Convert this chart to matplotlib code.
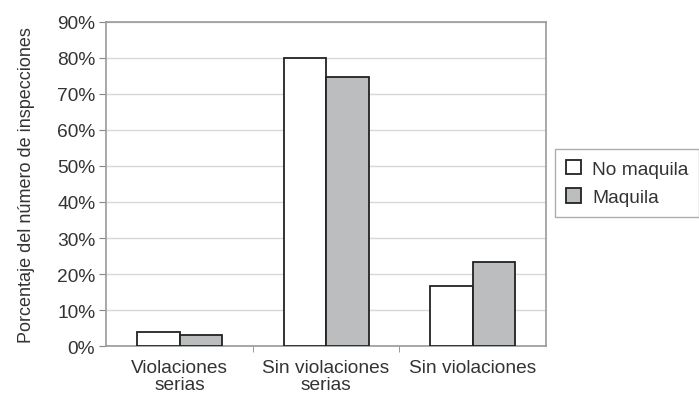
import matplotlib.pyplot as plt
import numpy as np
from matplotlib.ticker import PercentFormatter

# Datos
categorias = ['Violaciones\nserias', 'Sin violaciones\nserias', 'Sin violaciones']
no_maquila = [4, 80, 16.7]
maquila = [3.1, 74.5, 23.3]

plt.rcParams['font.family'] = ['Liberation Sans', 'DejaVu Sans']

fig = plt.figure(figsize=(6.99, 4.10), dpi=100)
ax = fig.add_axes([0.152, 0.153, 0.629, 0.792])

x = np.arange(len(categorias))
w = 0.29
ax.bar(x - w / 2, no_maquila, width=w, color='white', edgecolor='#222222', linewidth=1.3, label='No maquila', zorder=3)
ax.bar(x + w / 2, maquila, width=w, color='#bcbdbf', edgecolor='#222222', linewidth=1.3, label='Maquila', zorder=3)

ax.set_xlim(-0.5, 2.5)
ax.set_ylim(0, 90)
ax.set_yticks(np.arange(0, 91, 10))
ax.yaxis.set_major_formatter(PercentFormatter(decimals=0))
ax.set_xticks(x)
ax.set_xticklabels(categorias, fontsize=13.8, color='#333333', linespacing=1.05)
ax.set_xticks([0.5, 1.5], minor=True)
ax.tick_params(axis='x', which='major', length=0, pad=9)
ax.tick_params(axis='x', which='minor', length=4, color='#888888')
ax.tick_params(axis='y', labelsize=13.8, labelcolor='#333333', length=5, color='#888888', pad=3)
ax.grid(axis='y', color='#d8d8d8', linewidth=1, zorder=0)
for s in ax.spines.values():
    s.set_color('#999999')
    s.set_linewidth(1.2)

ax.set_ylabel('Porcentaje del número de inspecciones', fontsize=13, color='#333333', labelpad=16)

leg = fig.legend(loc='upper left', bbox_to_anchor=(0.794, 0.634), fontsize=13.8,
                 frameon=True, fancybox=False, edgecolor='#999999', borderaxespad=0,
                 handlelength=0.8, handleheight=0.8, handletextpad=0.6,
                 borderpad=0.55, labelspacing=0.55)
for t in leg.get_texts():
    t.set_color('#333333')

fig.savefig('out.png', dpi=100)
